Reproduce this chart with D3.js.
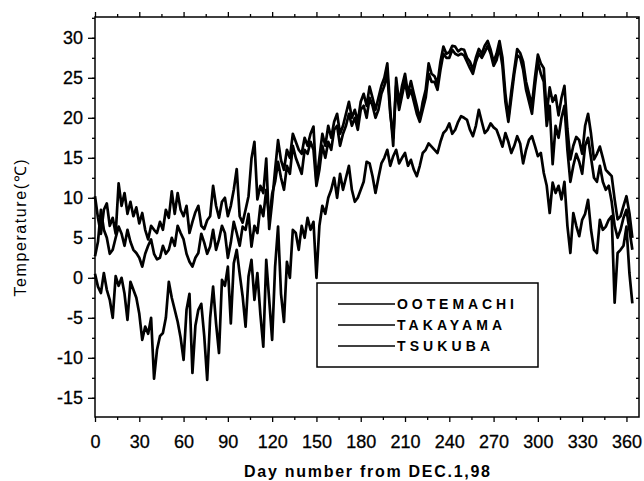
<!DOCTYPE html>
<html><head><meta charset="utf-8">
<script src="https://cdn.jsdelivr.net/npm/d3@7"></script>
<style>
html,body{margin:0;padding:0;background:#fff;}
svg{display:block;font-family:"Liberation Sans",Arial,sans-serif;}
</style></head>
<body><svg id="c" width="644" height="481"></svg>
<script>
// ---- data ----
const days = d3.range(0, 365, 2);
const seriesNames = ["OOTEMACHI", "TAKAYAMA", "TSUKUBA"];
const ootemachi = [
 10.2,7.5,5.5,8.5,9.3,6.5,7.5,5.5,11.8,9.0,10.6,8.0,9.5,7.7,8.8,6.8,8.1,6.0,4.8,6.5,6.0,5.6,7.0,6.0,8.5,7.5,10.8,8.0,10.6,8.5,7.7,
 9.0,5.6,7.0,8.2,9.0,6.5,6.1,7.2,7.7,11.5,9.0,7.5,9.5,10.0,7.7,9.0,11.0,13.6,7.7,6.9,8.5,10.2,14.9,17.0,9.8,11.5,10.6,14.9,6.1,9.5,13.5,17.2,
 14.7,13.5,16.0,15.0,18.0,17.0,16.0,15.5,17.5,16.5,18.0,18.9,12.0,15.0,18.0,16.5,19.0,17.5,19.5,20.5,18.0,19.0,20.5,22.0,20.0,21.0,19.5,22.0,23.0,21.5,23.9,
 22.5,21.0,22.5,24.0,25.0,26.8,21.0,16.5,25.0,21.8,24.0,25.5,23.0,24.6,23.0,21.5,19.8,22.0,23.5,26.8,25.5,25.2,24.3,27.0,28.9,28.0,28.2,29.0,28.9,28.3,28.6,
 28.5,27.5,27.0,26.0,27.5,28.6,28.0,29.0,29.6,28.5,27.0,28.0,29.6,27.5,23.0,20.0,23.3,26.0,28.6,28.1,27.0,24.5,23.0,21.6,25.0,27.9,26.8,26.2,20.5,23.8,22.0,
 22.8,20.3,22.5,24.0,18.6,14.8,16.5,17.6,17.2,15.5,19.0,20.5,18.0,14.8,15.5,16.4,15.0,13.5,13.1,12.7,9.8,7.3,7.7,9.0,10.2,8.1,5.0
];
const takayama = [
 0.5,-1.1,-1.9,0.6,-1.5,-2.75,-5.0,0.2,-1.0,0.0,-2.0,-5.25,-0.5,-1.5,-2.5,-4.5,-7.75,-6.1,-7.0,-5.0,-12.6,-9.0,-7.3,-6.9,-5.0,-0.5,-2.5,-4.0,-5.5,-7.5,-10.25,
 -4.0,-2.0,-11.9,-6.0,-4.0,-3.25,-7.3,-12.75,-5.0,-1.1,-5.7,-9.4,-0.25,-1.0,1.4,-5.7,1.8,3.5,0.5,-2.3,-6.1,0.2,2.25,-2.75,0.6,-4.5,-8.6,2.25,-2.75,-7.75,1.4,6.4,
 -2.0,-5.5,2.0,0.0,6.0,5.6,3.5,6.5,5.0,7.5,6.0,7.0,0.0,6.5,9.0,8.0,10.0,11.0,12.5,10.0,13.0,11.0,12.5,14.0,11.0,9.5,10.0,11.0,12.0,14.5,14.3,
 12.7,10.6,12.5,14.3,15.0,16.0,14.0,15.2,16.0,14.3,15.0,15.6,14.0,14.75,13.5,12.7,14.0,15.6,16.0,16.8,16.4,16.0,15.6,17.0,18.1,18.5,19.3,18.0,18.5,19.5,20.2,
 20.0,19.75,18.5,17.7,19.0,21.0,19.5,18.1,18.5,19.3,18.8,18.5,17.5,16.4,18.1,17.0,15.6,16.5,17.7,16.8,14.3,16.0,17.25,17.7,16.5,15.2,15.6,13.1,11.5,8.1,11.9,
 10.6,11.5,9.8,12.0,6.5,3.1,8.1,6.5,5.2,7.25,8.0,9.75,6.0,3.5,3.1,7.25,6.0,6.4,7.25,7.7,-3.1,3.1,3.5,4.0,6.4,0.6,-3.2
];
const tsukuba = [
 2.7,4.5,8.5,6.0,5.0,3.0,3.5,5.0,6.4,5.5,4.0,6.0,4.5,3.5,3.1,2.5,1.4,3.0,4.0,4.8,3.0,2.3,2.5,4.0,3.0,3.5,5.0,4.0,6.5,5.6,4.8,
 3.0,2.0,1.4,2.5,3.1,5.5,4.4,3.0,3.9,6.0,3.5,4.8,6.5,5.6,2.5,4.4,7.0,5.6,4.0,6.4,6.0,8.0,3.9,6.5,5.6,9.0,7.7,11.0,7.2,10.5,12.0,14.5,
 12.5,11.0,14.0,13.0,16.5,15.0,14.0,13.0,16.0,15.5,17.0,16.0,11.5,13.5,16.5,15.0,17.0,16.0,18.5,19.0,16.5,18.0,19.0,20.5,19.0,20.0,18.5,21.0,21.5,20.0,22.5,
 21.5,20.0,21.0,23.0,24.0,25.5,20.5,17.5,24.0,21.0,22.8,24.5,22.5,23.5,22.0,20.5,19.5,21.0,22.5,25.5,24.5,24.5,23.5,26.0,28.0,27.5,27.5,28.5,28.0,27.8,28.0,
 27.8,27.0,26.2,25.5,27.0,28.0,27.5,28.2,29.0,28.0,26.5,27.2,28.8,26.5,22.0,19.5,22.5,25.5,27.8,27.5,26.0,23.5,22.0,20.5,24.0,27.0,25.5,24.5,19.0,21.5,14.2,
 19.0,17.5,20.0,21.5,16.0,12.0,14.0,15.5,14.5,13.0,16.5,17.5,15.0,12.5,12.0,14.0,12.0,11.0,11.5,9.5,6.5,5.0,6.0,7.5,8.5,6.0,3.5
];
const xTicks = d3.range(0, 361, 30);
const yTicks = d3.range(-15, 31, 5);
const xTitle = "Day number from DEC.1,98";
const yTitle = "Temperature(\u2103)";

// ---- layout ----
const svg = d3.select("#c");
const L = 95, R = 639, T = 17, B = 417;
const x = d3.scaleLinear().domain([0, 368.5]).range([L, R]);
const y = d3.scaleLinear().domain([-17.4, 32.6]).range([B, T]);

const plot = svg.append("g");
const line = d3.line().x((d, i) => x(days[i])).y(d => y(d));
[tsukuba, takayama, ootemachi].forEach(s => {
  plot.append("path").datum(s).attr("d", line)
    .attr("fill", "none").attr("stroke", "#000")
    .attr("stroke-width", 2.7).attr("stroke-linejoin", "round");
});

// frame
svg.append("rect").attr("x", L).attr("y", T).attr("width", R - L).attr("height", B - T)
  .attr("fill", "none").attr("stroke", "#000").attr("stroke-width", 1.5);

// axes
const fmtY = d => d3.format("d")(d).replace("\u2212", "-");
const xMinor = d3.range(0, 366, 15);
const yMinor = d3.range(-17.5, 33, 2.5).filter(v => v >= -17.4 && v <= 32.6);

const gB = svg.append("g").attr("transform", `translate(0,${B})`)
  .call(d3.axisBottom(x).tickValues(xMinor).tickSize(5).tickFormat(d => d % 30 === 0 ? d : ""));
const gT = svg.append("g").attr("transform", `translate(0,${T})`)
  .call(d3.axisTop(x).tickValues(xMinor).tickSize(5).tickFormat(""));
const gL = svg.append("g").attr("transform", `translate(${L},0)`)
  .call(d3.axisLeft(y).tickValues(yMinor).tickSize(3).tickFormat(""));
const gL2 = svg.append("g").attr("transform", `translate(${L},0)`)
  .call(d3.axisLeft(y).tickValues(yTicks).tickSize(7).tickPadding(5).tickFormat(fmtY));
const gR = svg.append("g").attr("transform", `translate(${R},0)`)
  .call(d3.axisLeft(y).tickValues(yMinor).tickSize(3).tickFormat(""));
[gB, gT, gL, gL2, gR].forEach(g => {
  g.select(".domain").remove();
  g.selectAll("line").attr("stroke", "#000").attr("stroke-width", 1.3);
  g.selectAll("text").attr("fill", "#000").attr("font-size", 18)
    .attr("font-family", "'Liberation Sans', Arial, sans-serif")
    .attr("stroke", "#000").attr("stroke-width", 0.3);
});
gB.selectAll(".tick").filter(d => d % 30 !== 0).select("line").attr("y2", 3);
gT.selectAll(".tick").filter(d => d % 30 !== 0).select("line").attr("y2", -3);
gB.selectAll("text").attr("dy", null).attr("y", 31);
gR.selectAll("line").attr("x2", -3);

// titles
svg.append("text").attr("x", 367).attr("y", 477).attr("text-anchor", "middle")
  .attr("font-size", 16).attr("font-weight", "bold")
  .attr("textLength", 246).attr("lengthAdjust", "spacing").text(xTitle);
svg.append("text").attr("transform", "translate(26,228) rotate(-90)").attr("text-anchor", "middle")
  .attr("font-size", 16).attr("textLength", 137).attr("lengthAdjust", "spacing").text(yTitle);

// legend
const lg = svg.append("g");
lg.append("rect").attr("x", 317).attr("y", 283).attr("width", 221).attr("height", 84)
  .attr("fill", "#fff").attr("stroke", "#000").attr("stroke-width", 1.5);
const legY = d3.scalePoint().domain(seriesNames).range([304, 346]);
const legW = {"OOTEMACHI": 117, "TAKAYAMA": 105, "TSUKUBA": 93};
seriesNames.forEach(n => {
  lg.append("line").attr("x1", 338).attr("x2", 395).attr("y1", legY(n)).attr("y2", legY(n))
    .attr("stroke", "#000").attr("stroke-width", 1.6);
  lg.append("text").attr("x", 397).attr("y", legY(n) + 5).attr("font-size", 14)
    .attr("font-weight", "bold").attr("textLength", legW[n]).attr("lengthAdjust", "spacing").text(n);
});
</script></body></html>
